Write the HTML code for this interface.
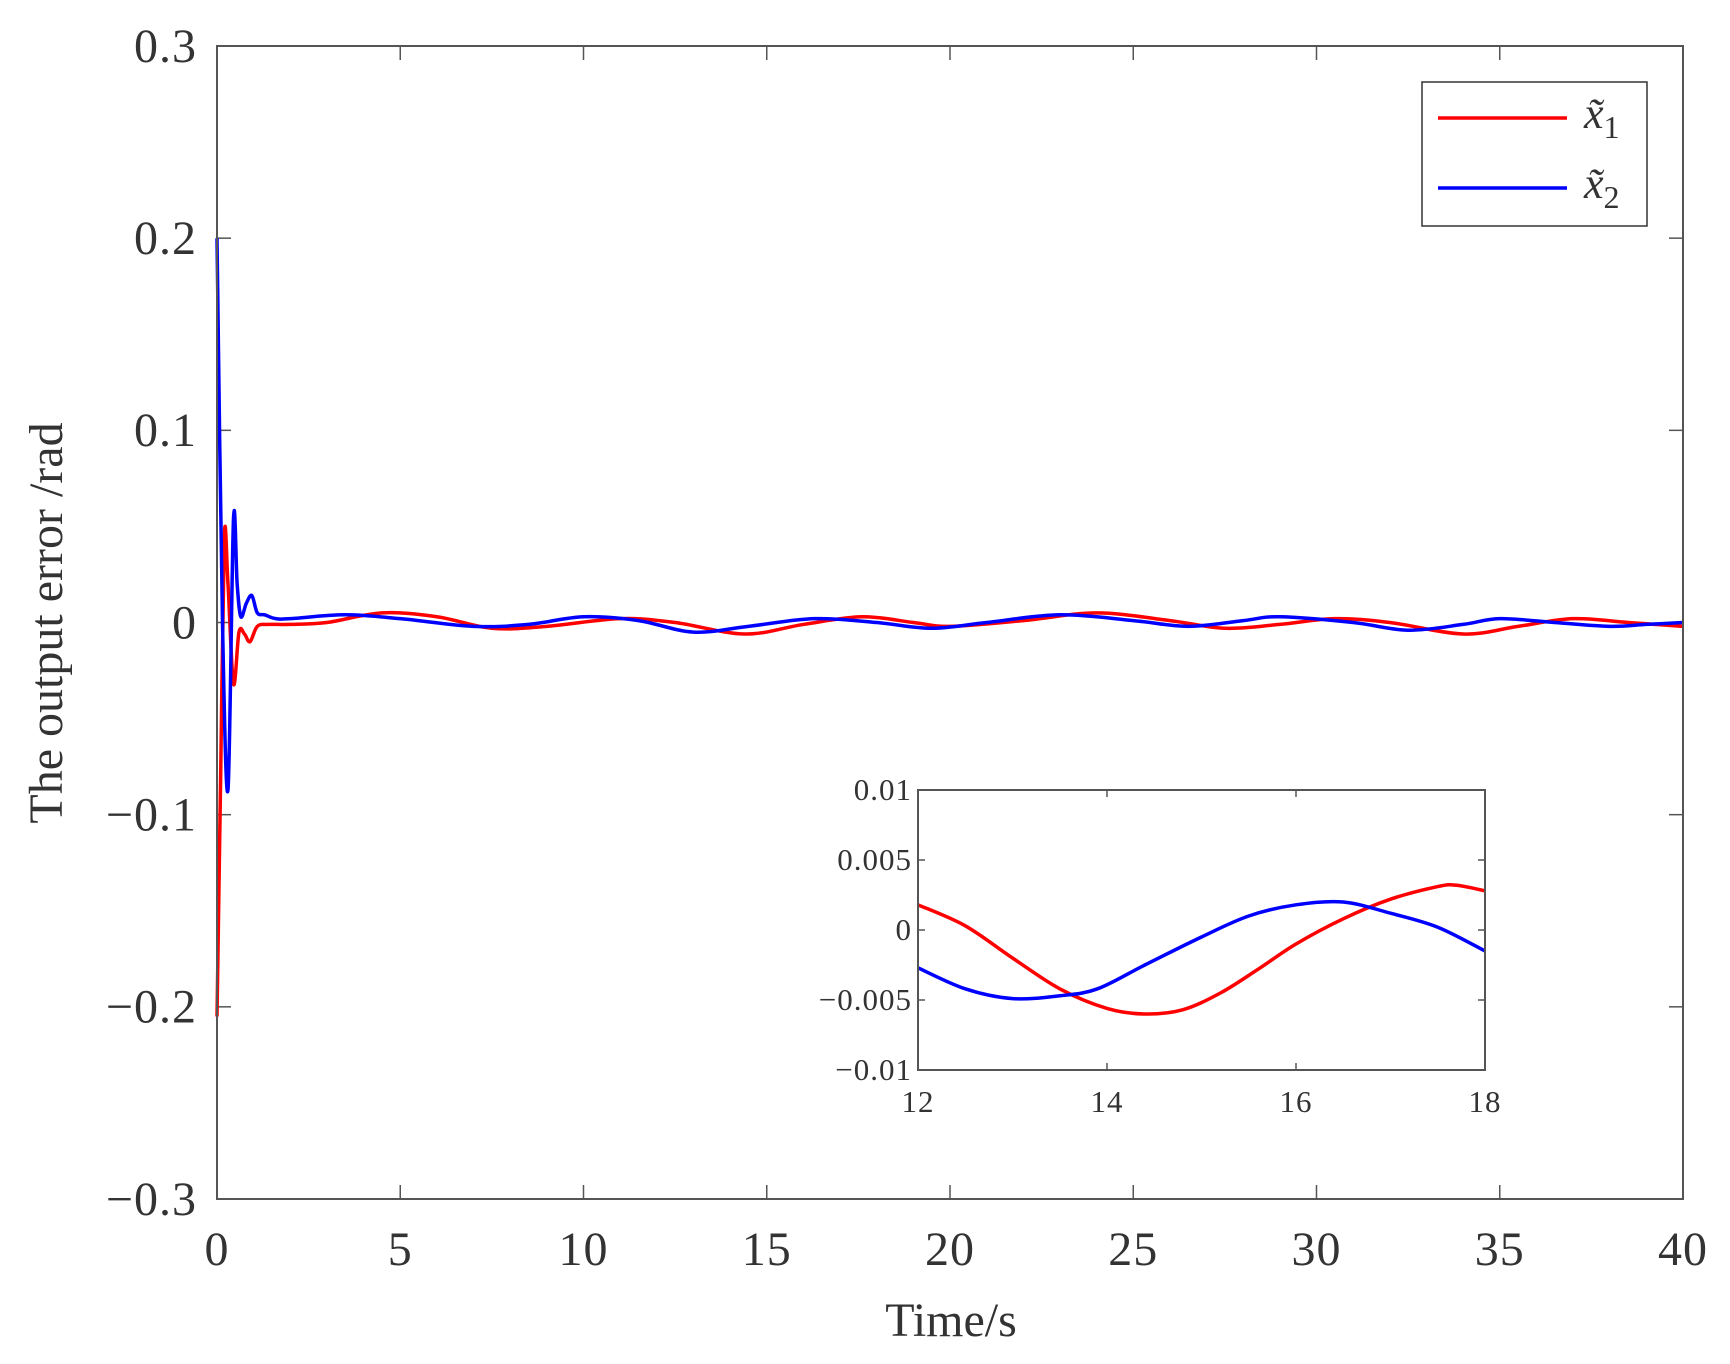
<!DOCTYPE html>
<html><head><meta charset="utf-8"><style>
html,body{margin:0;padding:0;background:#fff;}
svg{display:block;font-family:"Liberation Serif",serif;}
</style></head><body>
<svg id="chart" width="1730" height="1364" viewBox="0 0 1730 1364">
<g id="main"></g>
<g id="inset"></g>
</svg>
<script>
// ---- main chart data ----
const mainXTicks=[0,5,10,15,20,25,30,35,40];
const mainYTicks=[0.3,0.2,0.1,0,-0.1,-0.2,-0.3];
const mainYTickLabels=["0.3","0.2","0.1","0","\u22120.1","\u22120.2","\u22120.3"];
const redT=[0,0.1,0.2,0.3,0.45,0.6,0.75,0.9,1.1,1.4,2,3,4.5,6,7.5,9,11,12.5,14.4,16,17.6,19,20,22,24,26,27.5,29,30.5,32,34,35.5,37,38.5,40];
const redV=[-0.205,-0.08,0.045,0.02,-0.032,-0.005,-0.006,-0.01,-0.002,-0.001,-0.001,0,0.005,0.003,-0.003,-0.002,0.002,0,-0.006,-0.001,0.003,0,-0.002,0.001,0.005,0.001,-0.003,-0.001,0.002,0,-0.006,-0.002,0.002,0,-0.002];
const blueT=[0,0.15,0.3,0.45,0.55,0.65,0.8,0.95,1.1,1.3,1.6,2,3.5,5,7,8.5,10,11.5,13,14.5,16.3,18,19.5,21,23,25,26.5,28,29,31,32.5,34,35,36.5,38,39,40];
const blueV=[0.2,0.0,-0.087,0.054,0.02,0.003,0.01,0.014,0.005,0.004,0.002,0.002,0.004,0.002,-0.002,-0.001,0.003,0.001,-0.005,-0.002,0.002,0,-0.003,0,0.004,0.001,-0.002,0.001,0.003,0,-0.004,-0.001,0.002,0,-0.002,-0.001,0];
// ---- inset data ----
const insetXTicks=[12,14,16,18];
const insetYTicks=[0.01,0.005,0,-0.005,-0.01];
const insetYTickLabels=["0.01","0.005","0","\u22120.005","\u22120.01"];
const insRedT=[12,12.5,13,13.5,14,14.4,14.8,15.2,15.6,16,16.5,17,17.5,17.7,18];
const insRedV=[0.0018,0.0003,-0.002,-0.0042,-0.0056,-0.006,-0.0057,-0.0045,-0.0028,-0.001,0.0008,0.0022,0.0031,0.0032,0.0028];
const insBlueT=[12,12.5,13,13.5,13.9,14.4,15,15.5,16,16.5,17,17.5,18];
const insBlueV=[-0.0027,-0.0042,-0.0049,-0.0047,-0.0042,-0.0025,-0.0005,0.001,0.0018,0.002,0.0012,0.0002,-0.0015];

const NS="http://www.w3.org/2000/svg";
function mk(tag,attrs,parent){const e=document.createElementNS(NS,tag);for(const k in attrs)e.setAttribute(k,attrs[k]);parent.appendChild(e);return e;}
function smoothPath(pts){
  let d="M"+pts[0][0].toFixed(2)+","+pts[0][1].toFixed(2);
  for(let i=0;i<pts.length-1;i++){
    const p0=pts[Math.max(0,i-1)],p1=pts[i],p2=pts[i+1],p3=pts[Math.min(pts.length-1,i+2)];
    const c1=[p1[0]+(p2[0]-p0[0])/6,p1[1]+(p2[1]-p0[1])/6];
    const c2=[p2[0]-(p3[0]-p1[0])/6,p2[1]-(p3[1]-p1[1])/6];
    d+=" C"+c1[0].toFixed(2)+","+c1[1].toFixed(2)+" "+c2[0].toFixed(2)+","+c2[1].toFixed(2)+" "+p2[0].toFixed(2)+","+p2[1].toFixed(2);
  }
  return d;
}
function drawAxes(g,box,xd,yd,xt,yt,ytl,fs,tick,namePrefix,xoff,yoff){
  const sx=v=>box.l+(v-xd[0])/(xd[1]-xd[0])*(box.r-box.l);
  const sy=v=>box.b-(v-yd[0])/(yd[1]-yd[0])*(box.b-box.t);
  const bg=mk("rect",{x:box.l,y:box.t,width:box.r-box.l,height:box.b-box.t,fill:"#fff",stroke:"none"},g);
  
  
  xt.forEach(v=>{
    const x=sx(v);
    mk("line",{x1:x,y1:box.b,x2:x,y2:box.b-tick,stroke:"#555","stroke-width":1.5},g);
    mk("line",{x1:x,y1:box.t,x2:x,y2:box.t+tick,stroke:"#555","stroke-width":1.5},g);
    const t=mk("text",{x:x,y:box.b+xoff,"font-size":fs,"text-anchor":"middle",fill:"#333","letter-spacing":1},g);
    t.textContent=String(v);
    
    
  });
  yt.forEach((v,i)=>{
    const y=sy(v);
    mk("line",{x1:box.l,y1:y,x2:box.l+tick,y2:y,stroke:"#555","stroke-width":1.5},g);
    mk("line",{x1:box.r,y1:y,x2:box.r-tick,y2:y,stroke:"#555","stroke-width":1.5},g);
    const t=mk("text",{x:box.l-yoff,y:y+fs*0.33,"font-size":fs,"text-anchor":"end",fill:"#333","letter-spacing":1},g);
    t.textContent=ytl[i];
    
    
  });
  return {sx,sy};
}
function drawSeries(g,sx,sy,T,V,color,w,name,clip){
  const pts=T.map((t,i)=>[sx(t),sy(V[i])]);
  const p=mk("path",{d:smoothPath(pts),fill:"none",stroke:color,"stroke-width":w,"stroke-linejoin":"round"},g);
  if(clip)p.setAttribute("clip-path",clip);
  
  
}
// main
const gm=document.getElementById("main");
const mb={l:217,r:1683,t:46,b:1199};
const ma=drawAxes(gm,mb,[0,40],[-0.3,0.3],mainXTicks,mainYTicks,mainYTickLabels,48,14,"main-",66,20);
drawSeries(gm,ma.sx,ma.sy,redT,redV,"#ff0000",3.5,"series-x1-line");
drawSeries(gm,ma.sx,ma.sy,blueT,blueV,"#0000ff",3.5,"series-x2-line");
const mf=mk("rect",{x:mb.l,y:mb.t,width:mb.r-mb.l,height:mb.b-mb.t,fill:"none",stroke:"#555","stroke-width":2},gm);


const yl=mk("text",{x:0,y:0,"font-size":48,"text-anchor":"middle",fill:"#333",transform:"translate(62,623) rotate(-90)"},gm);
yl.textContent="The output error /rad";


const xl=mk("text",{x:951,y:1336,"font-size":48,"text-anchor":"middle",fill:"#333"},gm);
xl.textContent="Time/s";


// legend
const lg=mk("g",{},gm);


mk("rect",{x:1422,y:82,width:225,height:144,fill:"#fff",stroke:"#333","stroke-width":1.5},lg);
[["#ff0000",118,"1"],["#0000ff",188,"2"]].forEach(([c,y,s])=>{
  const e=mk("g",{},lg);
  
  
  mk("line",{x1:1438,y1:y,x2:1567,y2:y,stroke:c,"stroke-width":3.5},e);
  const t=mk("text",{x:1584,y:y+10,"font-size":44,fill:"#333","font-style":"italic"},e);
  t.textContent="x\u0303";
  const sb=mk("tspan",{"font-size":32,"font-style":"normal",dy:10},t);
  sb.textContent=s;
});
// inset
const gi=document.getElementById("inset");
const ib={l:918,r:1485,t:790,b:1070};
const defs=mk("defs",{},gi);
const cp=mk("clipPath",{id:"insclip"},defs);
mk("rect",{x:ib.l,y:ib.t,width:ib.r-ib.l,height:ib.b-ib.t},cp);
const ia=drawAxes(gi,ib,[12,18],[-0.01,0.01],insetXTicks,insetYTicks,insetYTickLabels,31,7,"inset-",42,6);
drawSeries(gi,ia.sx,ia.sy,insRedT,insRedV,"#ff0000",3.5,"inset-series-x1-line","url(#insclip)");
drawSeries(gi,ia.sx,ia.sy,insBlueT,insBlueV,"#0000ff",3.5,"inset-series-x2-line","url(#insclip)");
const inf=mk("rect",{x:ib.l,y:ib.t,width:ib.r-ib.l,height:ib.b-ib.t,fill:"none",stroke:"#555","stroke-width":2},gi);


</script>
</body></html>
